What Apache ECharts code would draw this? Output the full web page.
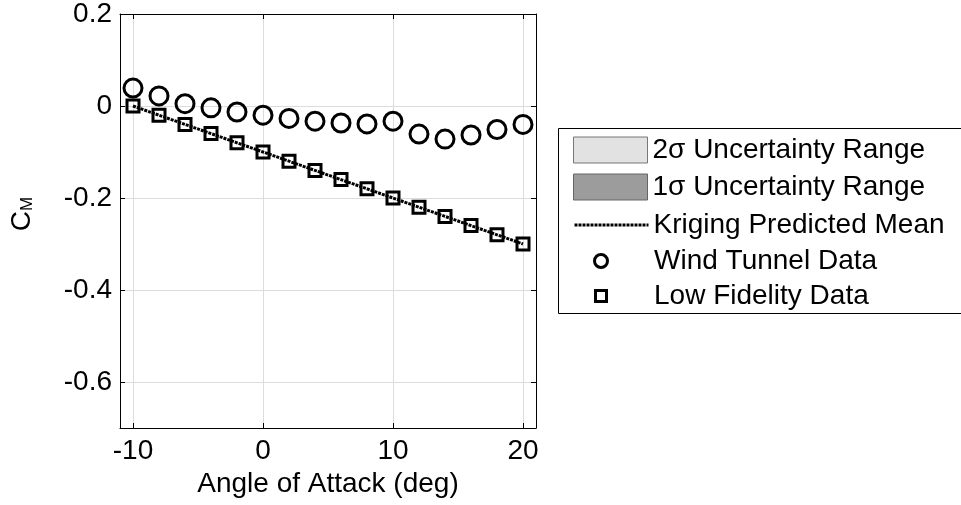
<!DOCTYPE html>
<html>
<head>
<meta charset="utf-8">
<script src="https://cdn.jsdelivr.net/npm/echarts@6/dist/echarts.min.js"></script>
<style>
  html, body { margin: 0; padding: 0; background: #fff; }
  #chart { width: 961px; height: 505px; }
</style>
</head>
<body>
<div id="chart"></div>
<script>
// angle of attack (deg)
var aoa = [-10, -8, -6, -4, -2, 0, 2, 4, 6, 8, 10, 12, 14, 16, 18, 20];
// wind tunnel C_M
var windTunnel = [0.039, 0.022, 0.005, -0.004, -0.013, -0.020, -0.027, -0.033,
                  -0.037, -0.039, -0.033, -0.061, -0.072, -0.063, -0.051, -0.040];
// low fidelity C_M
var lowFidelity = [0, -0.02, -0.04, -0.06, -0.08, -0.10, -0.12, -0.14,
                   -0.16, -0.18, -0.20, -0.22, -0.24, -0.26, -0.28, -0.30];
// kriging mean (sits right on the low fidelity points)
var krigingMean = [0, -0.02, -0.04, -0.06, -0.08, -0.10, -0.12, -0.14,
                   -0.16, -0.18, -0.20, -0.22, -0.24, -0.26, -0.28, -0.30];

var names = ['2σ Uncertainty Range', '1σ Uncertainty Range', 'Kriging Predicted Mean',
             'Wind Tunnel Data', 'Low Fidelity Data'];

function pairs(xs, ys) {
    return xs.map(function (x, i) { return [x, ys[i]]; });
}

var font = 'Liberation Sans, Arial, Helvetica, sans-serif';
var txt = { fontSize: 28, color: '#000', fontFamily: font };

var myChart = echarts.init(document.getElementById('chart'));

// one legend per row so every icon can have its own size
function legendRow(item, left, top, w, h) {
    return {
        data: [item],
        left: left,
        top: top,
        itemWidth: w,
        itemHeight: h,
        padding: 0,
        selectedMode: false,
        textStyle: { fontSize: 28, color: '#000', fontFamily: font, lineHeight: 30 },
        z: 5
    };
}

var xBase = {
    type: 'value', min: -11, max: 21, splitNumber: 3,
    axisLine: { onZero: false, lineStyle: { color: '#000', width: 1 } },
    axisTick: { inside: true, length: 5, lineStyle: { color: '#000' } }
};
var yBase = {
    type: 'value', min: -0.7, max: 0.2, splitNumber: 4,
    axisLine: { onZero: false, lineStyle: { color: '#000', width: 1 } },
    axisTick: { inside: true, length: 5, lineStyle: { color: '#000' } }
};

option = {
    backgroundColor: '#fff',
    animation: false,
    grid: { left: 120, right: 425, top: 12, bottom: 77 },
    graphic: [{
        type: 'rect', left: 558, top: 128, z: 1,
        shape: { width: 420, height: 185 },
        style: { fill: '#fff', stroke: '#000', lineWidth: 1 }
    }],
    legend: [
        legendRow({ name: names[0], icon: 'rect',
            itemStyle: { color: '#e2e2e2', borderColor: '#777', borderWidth: 1 } }, 573, 135, 74, 26),
        legendRow({ name: names[1], icon: 'rect',
            itemStyle: { color: '#9c9c9c', borderColor: '#666', borderWidth: 1 } }, 573, 172, 74, 26),
        legendRow({ name: names[2], itemStyle: { opacity: 0 },
            lineStyle: { color: '#000', width: 3, type: [3, 1] } }, 573, 210, 74, 26),
        legendRow({ name: names[3], icon: 'circle',
            itemStyle: { color: 'rgba(0,0,0,0)', borderColor: '#000', borderWidth: 3 } }, 593, 246, 96, 13),
        legendRow({ name: names[4], icon: 'path://M0,0H10V10H0Z',
            itemStyle: { color: 'rgba(0,0,0,0)', borderColor: '#000', borderWidth: 3 } }, 594, 281, 96, 11)
    ],
    xAxis: [
        Object.assign({}, xBase, {
            position: 'bottom',
            name: 'Angle of Attack (deg)',
            nameLocation: 'middle',
            nameGap: 37,
            nameTextStyle: txt,
            axisLabel: Object.assign({ margin: 9, showMinLabel: false, showMaxLabel: false }, txt),
            splitLine: { show: true, lineStyle: { color: '#dcdcdc', width: 1 } }
        }),
        Object.assign({}, xBase, {
            position: 'top',
            axisLabel: { show: false },
            splitLine: { show: false }
        })
    ],
    yAxis: [
        Object.assign({}, yBase, {
            position: 'left',
            name: '{c|C}{m|M}',
            nameLocation: 'middle',
            nameRotate: 90,
            nameGap: 84,
            nameTextStyle: {
                fontSize: 28, color: '#000', fontFamily: font,
                padding: [0, 0, 0, 14],
                rich: {
                    c: { fontSize: 28, color: '#000', fontFamily: font },
                    m: { fontSize: 17, color: '#000', fontFamily: font, verticalAlign: 'bottom' }
                }
            },
            axisLabel: Object.assign({ margin: 8, showMinLabel: false }, txt),
            splitLine: { show: true, lineStyle: { color: '#dcdcdc', width: 1 } }
        }),
        Object.assign({}, yBase, {
            position: 'right',
            axisLabel: { show: false },
            splitLine: { show: false }
        })
    ],
    series: [
        { name: names[0], type: 'line', data: [], itemStyle: { color: '#e2e2e2' } },
        { name: names[1], type: 'line', data: [], itemStyle: { color: '#9c9c9c' } },
        {
            name: names[2], type: 'line', z: 2,
            symbol: 'none', showSymbol: false,
            lineStyle: { color: '#000', width: 3, type: [3, 1] },
            itemStyle: { color: '#000' },
            data: pairs(aoa, krigingMean)
        },
        {
            name: names[3], type: 'scatter', z: 3,
            symbol: 'circle', symbolSize: 18,
            itemStyle: { color: 'rgba(0,0,0,0)', borderColor: '#000', borderWidth: 3, opacity: 1 },
            data: pairs(aoa, windTunnel)
        },
        {
            name: names[4], type: 'scatter', z: 3,
            symbol: 'rect', symbolSize: 12,
            itemStyle: { color: 'rgba(0,0,0,0)', borderColor: '#000', borderWidth: 3, opacity: 1 },
            data: pairs(aoa, lowFidelity)
        }
    ]
};

myChart.setOption(option);
window.addEventListener('resize', function () {
    myChart.resize();
});
</script>
</body>
</html>
